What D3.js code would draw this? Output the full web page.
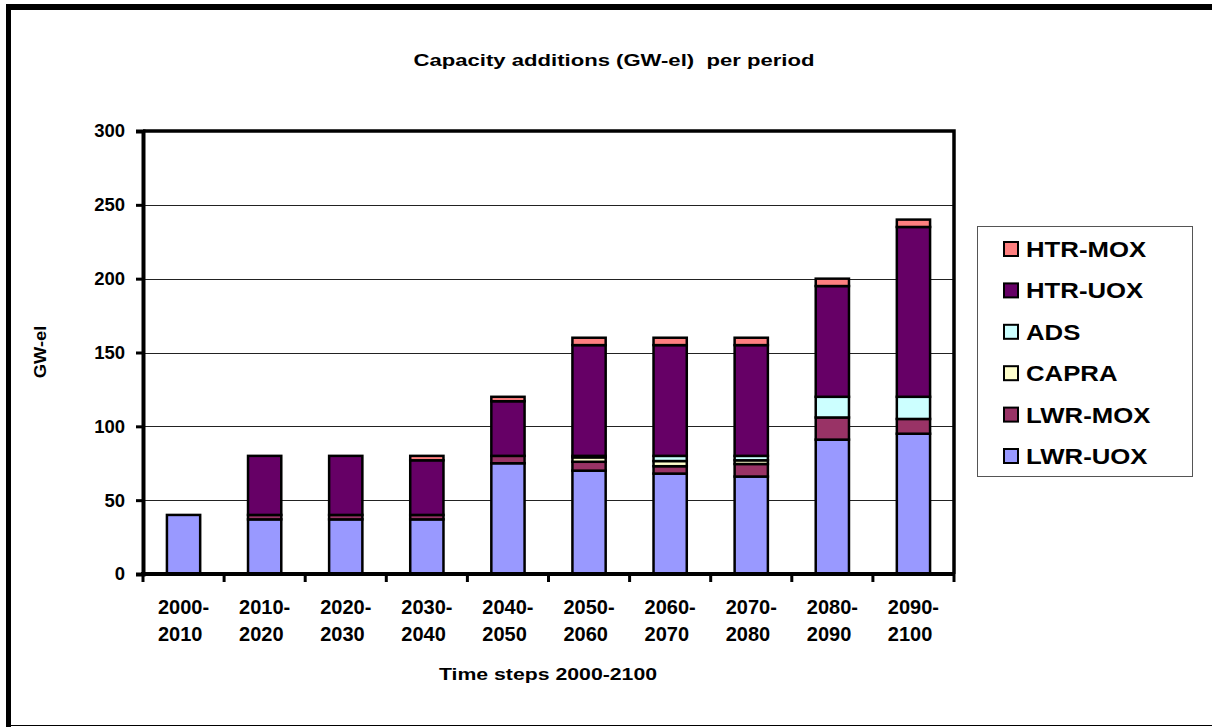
<!DOCTYPE html>
<html>
<head>
<meta charset="utf-8">
<script src="https://cdn.jsdelivr.net/npm/d3@7"></script>
<style>
  html, body { margin: 0; padding: 0; background: #fff; }
  svg { display: block; font-family: "Liberation Sans", Arial, sans-serif; }
</style>
</head>
<body>
<svg id="chart" width="1212" height="727"></svg>
<script>
// Periods (two-line labels) and capacity additions per reactor type, GW-el
const periods = ["2000-2010","2010-2020","2020-2030","2030-2040","2040-2050",
                 "2050-2060","2060-2070","2070-2080","2080-2090","2090-2100"];
const seriesNames = ["LWR-UOX","LWR-MOX","CAPRA","ADS","HTR-UOX","HTR-MOX"];
const lwrUox = [40, 37, 37, 37, 75, 70, 68, 66, 91, 95];
const lwrMox = [0, 3, 3, 3, 5, 6, 5, 8.5, 15, 10];
const capra  = [0, 0, 0, 0, 0, 3, 3.5, 2.5, 0, 0];
const ads    = [0, 0, 0, 0, 0, 1, 3.5, 3, 14, 15];
const htrUox = [0, 40, 40, 37, 37, 75, 75, 75, 75, 115];
const htrMox = [0, 0, 0, 3, 3, 5, 5, 5, 5, 5];
const yTicks = [0, 50, 100, 150, 200, 250, 300];
const colors = ["#9999FF","#993366","#FFFFCC","#CCFFFF","#660066","#FF8080"];

const table = periods.map((p, i) => ({
  period: p,
  "LWR-UOX": lwrUox[i], "LWR-MOX": lwrMox[i], "CAPRA": capra[i],
  "ADS": ads[i], "HTR-UOX": htrUox[i], "HTR-MOX": htrMox[i]
}));

const svg = d3.select("#chart");

// outer frame
svg.append("rect").attr("x", 0).attr("y", 0).attr("width", 1212).attr("height", 727).attr("fill", "#fff");
svg.append("line").attr("x1", 6).attr("x2", 1212).attr("y1", 7).attr("y2", 7)
  .attr("stroke", "#000").attr("stroke-width", 6);
svg.append("line").attr("x1", 8.5).attr("x2", 8.5).attr("y1", 4).attr("y2", 727)
  .attr("stroke", "#000").attr("stroke-width", 5);
svg.append("line").attr("x1", 6).attr("x2", 1212).attr("y1", 725.5).attr("y2", 725.5)
  .attr("stroke", "#000").attr("stroke-width", 1);

const plot = { left: 143, right: 954, top: 131, bottom: 574 };

const x = d3.scaleBand().domain(periods).range([plot.left, plot.right]).paddingInner(0.59).paddingOuter(0.295);
const y = d3.scaleLinear().domain([0, 300]).range([plot.bottom, plot.top]);

// gridlines
svg.append("g").selectAll("line").data(yTicks.filter(t => t > 0 && t < 300)).join("line")
  .attr("x1", plot.left).attr("x2", plot.right)
  .attr("y1", d => Math.round(y(d)) + 0.5).attr("y2", d => Math.round(y(d)) + 0.5)
  .attr("stroke", "#222").attr("stroke-width", 1);

// stacked bars
const stack = d3.stack().keys(seriesNames)(table);
const layers = svg.append("g").selectAll("g").data(stack).join("g")
  .attr("fill", (d, i) => colors[i]);
layers.selectAll("rect").data(d => d.filter(s => s[1] - s[0] > 0)).join("rect")
  .attr("x", d => x(d.data.period))
  .attr("width", x.bandwidth())
  .attr("y", d => y(d[1]))
  .attr("height", d => y(d[0]) - y(d[1]))
  .attr("stroke", "#000").attr("stroke-width", 2.5);

// plot area frame (top and right)
svg.append("path")
  .attr("d", `M${plot.left},${plot.top}H${plot.right}V${plot.bottom}`)
  .attr("fill", "none").attr("stroke", "#000").attr("stroke-width", 3.5);

// y axis
const yAxis = svg.append("g").attr("transform", `translate(${plot.left},0)`)
  .call(d3.axisLeft(y).tickValues(yTicks).tickSize(7).tickPadding(11));
yAxis.select(".domain").attr("stroke", "#000").attr("stroke-width", 4);
yAxis.selectAll(".tick line").attr("stroke", "#000").attr("stroke-width", 3);
yAxis.selectAll(".tick text").attr("font-size", 18.5).attr("font-weight", "bold")
  .attr("fill", "#000").attr("font-family", "Liberation Sans, Arial, sans-serif");

// x axis: ticks between categories
const xAxis = svg.append("g").attr("transform", `translate(0,${plot.bottom})`);
xAxis.append("line").attr("x1", plot.left - 2).attr("x2", plot.right + 1)
  .attr("y1", 0).attr("y2", 0).attr("stroke", "#000").attr("stroke-width", 4);
const boundaries = d3.range(periods.length + 1).map(i => plot.left + i * (plot.right - plot.left) / periods.length);
xAxis.selectAll("line.tk").data(boundaries).join("line").attr("class", "tk")
  .attr("x1", d => d).attr("x2", d => d).attr("y1", 0).attr("y2", 8)
  .attr("stroke", "#000").attr("stroke-width", 3);
const xl = xAxis.selectAll("text.lbl").data(periods).join("text").attr("class", "lbl")
  .attr("text-anchor", "start")
  .attr("font-size", 20).attr("font-weight", "bold").attr("fill", "#000");
xl.append("tspan").attr("class", "l1").attr("y", 40).text(d => d.split("-")[0] + "-");
xl.append("tspan").attr("class", "l2").attr("y", 67).text(d => d.split("-")[1]);
// both lines start where the centred first line starts
xl.each(function(d) {
  const t = d3.select(this);
  const w = t.select(".l1").node().getComputedTextLength();
  const x0 = x(d) + x.bandwidth() / 2 - w / 2;
  t.selectAll("tspan").attr("x", x0);
});

// titles (horizontally widened, as in the chart's text style)
svg.append("text").attr("transform", "translate(614,66) scale(1.3,1)").attr("text-anchor", "middle")
  .style("white-space", "pre")
  .attr("font-size", 17).attr("font-weight", "bold").text("Capacity additions (GW-el)  per period");
svg.append("text").attr("transform", "translate(548,680) scale(1.25,1)").attr("text-anchor", "middle")
  .attr("font-size", 17).attr("font-weight", "bold").text("Time steps 2000-2100");
svg.append("text").attr("transform", "translate(46,352) rotate(-90) scale(1.08,1)").attr("text-anchor", "middle")
  .attr("font-size", 17).attr("font-weight", "bold").text("GW-el");

// legend
const legend = svg.append("g");
legend.append("rect").attr("x", 977.5).attr("y", 226.5).attr("width", 215).attr("height", 250)
  .attr("fill", "#fff").attr("stroke", "#555").attr("stroke-width", 1);
const legendOrder = seriesNames.slice().reverse();
const ly = d3.scalePoint().domain(legendOrder).range([249, 456]);
const items = legend.selectAll("g").data(legendOrder).join("g")
  .attr("transform", d => `translate(0,${ly(d)})`);
items.append("rect").attr("x", 1004).attr("y", -7).attr("width", 14).attr("height", 14)
  .attr("fill", d => colors[seriesNames.indexOf(d)]).attr("stroke", "#000").attr("stroke-width", 2);
items.append("text").attr("transform", "translate(1026,8) scale(1.17,1)")
  .attr("font-size", 22).attr("font-weight", "bold").attr("fill", "#000").text(d => d);
</script>
</body>
</html>
